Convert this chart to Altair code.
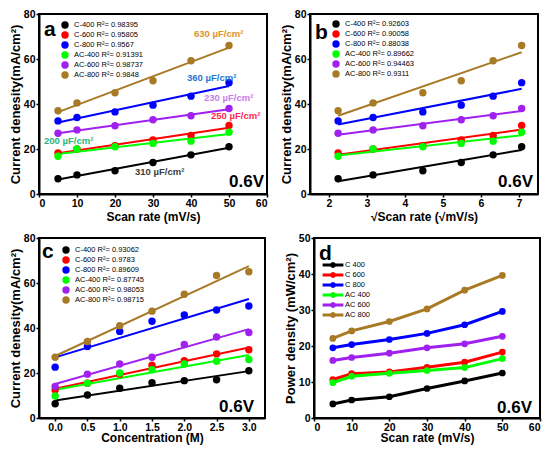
import altair as alt
import pandas as pd

FONT = "Liberation Sans"

series = ["C-400", "C-600", "C-800", "AC-400", "AC-600", "AC-800"]
series_d = ["C 400", "C 600", "C 800", "AC 400", "AC 600", "AC 800"]
colors = ["#000000", "#ff0000", "#0000ff", "#00ff00", "#a020f0", "#a87a26"]

scan_rate = [5, 10, 20, 30, 40, 50]
sqrt_rate = [2.24, 3.16, 4.47, 5.48, 6.32, 7.07]
conc = [0.0, 0.5, 1.0, 1.5, 2.0, 2.5, 3.0]

# current density vs scan rate (panels a, b)
j_c400 = [6.8, 8.5, 10.3, 14.0, 17.4, 21.0]
j_c600 = [18.2, 20.0, 21.5, 24.0, 26.0, 30.5]
j_c800 = [32.5, 34.0, 36.5, 39.5, 43.5, 49.5]
j_ac400 = [16.8, 20.0, 21.0, 22.5, 23.5, 27.5]
j_ac600 = [27.0, 28.5, 30.3, 33.0, 34.8, 38.0]
j_ac800 = [37.0, 40.5, 45.0, 50.3, 59.2, 66.0]

# current density vs concentration (panel c)
c_c400 = [6.3, 10.2, 13.2, 15.7, 16.6, 17.0, 21.0]
c_c600 = [12.5, 15.5, 19.5, 23.5, 25.5, 28.5, 30.3]
c_c800 = [22.6, 31.8, 38.5, 43.0, 45.8, 48.0, 49.8]
c_ac400 = [9.8, 15.5, 20.0, 21.5, 24.0, 25.2, 26.0]
c_ac600 = [14.0, 19.5, 24.0, 27.0, 32.7, 36.0, 38.0]
c_ac800 = [27.0, 34.0, 41.0, 47.5, 55.0, 63.3, 65.0]

# power density (panel d)
p_c400 = [3.9, 5.0, 5.9, 8.2, 10.3, 12.5]
p_c600 = [10.7, 12.3, 12.8, 14.1, 15.5, 18.3]
p_c800 = [19.5, 20.4, 21.8, 23.5, 25.9, 29.6]
p_ac400 = [9.8, 11.6, 12.4, 13.2, 14.0, 16.5]
p_ac600 = [16.0, 16.8, 18.0, 19.5, 20.6, 22.7]
p_ac800 = [22.1, 24.2, 26.8, 30.3, 35.5, 39.6]

r2_a = ["0.98395", "0.95805", "0.9567", "0.91391", "0.98737", "0.9848"]
r2_b = ["0.92603", "0.90058", "0.88038", "0.89662", "0.94463", "0.9311"]
r2_c = ["0.93062", "0.9783", "0.89609", "0.87745", "0.98053", "0.98715"]

cap_labels = ["630 µF/cm²", "360 µF/cm²", "230 µF/cm²", "250 µF/cm²", "200 µF/cm²", "310 µF/cm²"]
cap_colors = ["#e0922a", "#1e78d2", "#c77de8", "#ff2850", "#1fb57f", "#3c3c3c"]

W, H = 228, 180

# legend glyph for panel d: a short bar with a dot on it (filled outline)
LINE_DOT = ("M-2.6,-0.375H2.6V0.375H-2.6Z"
            "M0.75,0L0.65,0.375L0.375,0.65L0,0.75L-0.375,0.65L-0.65,0.375L-0.75,0"
            "L-0.65,-0.375L-0.375,-0.65L0,-0.75L0.375,-0.65L0.65,-0.375Z")


def make_df(xs, ys_list, labels):
    rows = []
    for lab, ys in zip(labels, ys_list):
        for xv, yv in zip(xs, ys):
            rows.append({"x": xv, "y": yv, "s": lab})
    return pd.DataFrame(rows)


def text_layer(t, x, y, color="black", size=9.5, weight="bold", align="left", baseline="middle"):
    return alt.Chart(pd.DataFrame({"t": [t]})).mark_text(
        align=align, baseline=baseline, fontSize=size, fontWeight=weight,
        color=color, font=FONT
    ).encode(x=alt.value(x), y=alt.value(y), text="t:N")


def fit_panel(xs, ys_list, r2, xdom, xvals, xtitle, xfmt, letter, letter_xy,
              lx, ly, v_dx, v_y, title_pad, width, extra=None):
    labels = [f"{n}  R²= {r}" for n, r in zip(series, r2)]
    df = make_df(xs, ys_list, labels)
    legend = alt.Legend(
        title=None, orient="none", legendX=lx, legendY=ly, padding=0,
        labelFont=FONT, labelFontSize=7.5, labelColor="black", labelLimit=300,
        symbolType="circle", symbolSize=55, symbolStrokeWidth=0, symbolOpacity=1,
        rowPadding=2, labelOffset=5,
    )
    color = alt.Color("s:N", scale=alt.Scale(domain=labels, range=colors), legend=legend)
    x = alt.X("x:Q", scale=alt.Scale(domain=xdom, nice=False, zero=False),
              axis=alt.Axis(values=xvals, format=xfmt, title=xtitle, titlePadding=title_pad))
    y = alt.Y("y:Q", scale=alt.Scale(domain=[0, 80], nice=False),
              axis=alt.Axis(values=[0, 20, 40, 60, 80], title="Current denesity(mA/cm²)"))
    base = alt.Chart(df)
    lines = base.transform_regression("x", "y", groupby=["s"]).mark_line(strokeWidth=2).encode(
        x=x, y=y, color=color)
    pts = base.mark_circle(size=55, opacity=1).encode(x=x, y=y, color=color)
    layers = [lines, pts,
              text_layer(letter, letter_xy[0], letter_xy[1], size=21, baseline="alphabetic"),
              text_layer("0.6V", width - v_dx, v_y, size=17, align="right", baseline="alphabetic")]
    if extra:
        layers += extra
    return alt.layer(*layers).properties(width=width, height=H)


ann_pos = [(155, 20), (148, 64), (165, 84), (172, 102), (5, 127), (96, 158)]
ann = [text_layer(t, px, py, color=c) for t, c, (px, py) in zip(cap_labels, cap_colors, ann_pos)]

panel_a = fit_panel(scan_rate, [j_c400, j_c600, j_c800, j_ac400, j_ac600, j_ac800], r2_a,
                    [0, 60], [0, 10, 20, 30, 40, 50, 60], "Scan rate (mV/s)", "d",
                    "a", (5, 22), 22, 7, 3, 173, 3, W, extra=ann)
panel_b = fit_panel(sqrt_rate, [j_c400, j_c600, j_c800, j_ac400, j_ac600, j_ac800], r2_b,
                    [1.5, 7.5], [2, 3, 4, 5, 6, 7], "√Scan rate (√mV/s)", "d",
                    "b", (5, 25), 22, 6, 5, 173, 3, W)
panel_c = fit_panel(conc, [c_c400, c_c600, c_c800, c_ac400, c_ac600, c_ac800], r2_c,
                    [-0.25, 3.25], [0, 0.5, 1, 1.5, 2, 2.5, 3], "Concentration (M)", ".1f",
                    "c", (3, 20), 23, 8, 11, 174, 0, 226)

# panel d
df_d = make_df(scan_rate, [p_c400, p_c600, p_c800, p_ac400, p_ac600, p_ac800], series_d)
legend_d = alt.Legend(
    title=None, orient="none", legendX=15, legendY=23, padding=0,
    labelFont=FONT, labelFontSize=7.5, labelColor="black",
    symbolType=LINE_DOT, symbolSize=64, symbolStrokeWidth=0, symbolOpacity=1,
    rowPadding=2, labelOffset=8,
)
color_d = alt.Color("s:N", scale=alt.Scale(domain=series_d, range=colors), legend=legend_d)
xd = alt.X("x:Q", scale=alt.Scale(domain=[0, 60], nice=False),
           axis=alt.Axis(values=[0, 10, 20, 30, 40, 50, 60], title="Scan rate (mV/s)", titlePadding=0))
yd = alt.Y("y:Q", scale=alt.Scale(domain=[0, 50], nice=False),
           axis=alt.Axis(values=[0, 10, 20, 30, 40, 50], title="Power density (mW/cm²)"))
base_d = alt.Chart(df_d)
lines_d = base_d.mark_line(strokeWidth=3).encode(x=xd, y=yd, color=color_d)
pts_d = base_d.mark_circle(size=45, opacity=1).encode(x=xd, y=yd, color=color_d)
WD = 226
panel_d = alt.layer(
    lines_d, pts_d,
    text_layer("d", 5, 22, size=21, baseline="alphabetic"),
    text_layer("0.6V", WD - 8, 175, size=17, align="right", baseline="alphabetic"),
).properties(width=WD, height=H)

row1 = alt.hconcat(panel_a, panel_b, spacing=10).resolve_scale(color="independent").resolve_legend(color="independent")
row2 = alt.hconcat(panel_c, panel_d, spacing=17).resolve_scale(color="independent").resolve_legend(color="independent")

chart = alt.vconcat(row1, row2, spacing=8).resolve_scale(color="independent").resolve_legend(
    color="independent"
).properties(padding=0).configure_view(
    stroke="black", strokeWidth=2
).configure_axis(
    domainColor="black", domainWidth=2, tickColor="black", tickWidth=1.5, tickSize=3,
    labelFont=FONT, labelFontWeight="bold", labelFontSize=10.5, labelColor="black",
    titleFont=FONT, titleFontWeight="bold", titleFontSize=12, titleColor="black",
    grid=False, labelPadding=1,
).configure_axisY(titleFontSize=13, titlePadding=1)

chart.save("out.html", embed_options={"renderer": "svg", "actions": False})
